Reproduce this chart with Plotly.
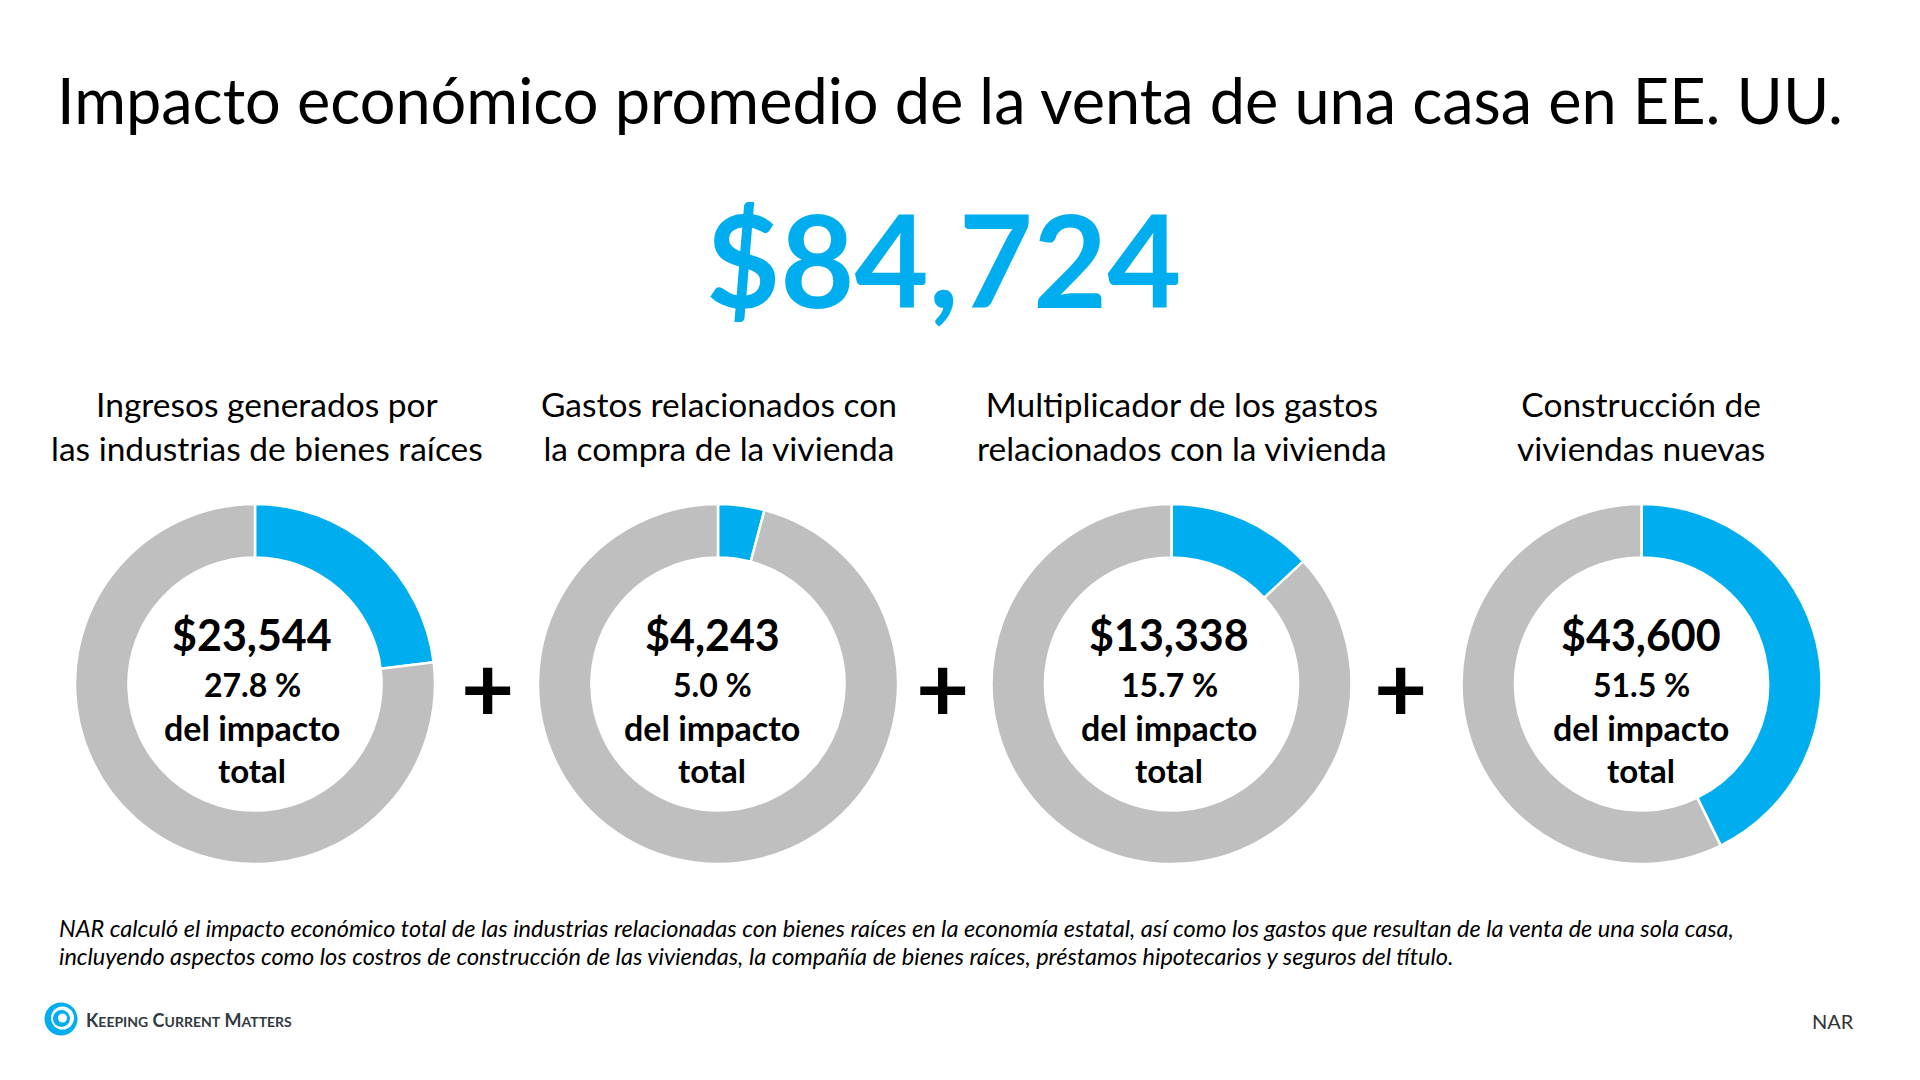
import plotly.graph_objects as go

W, H = 1920, 1080
blue = "#00AEEF"
grey = "#BFBFBF"
font = "Lato"

title = "Impacto económico promedio de la venta de una casa en EE. UU."
total_label = "$84,724"
headers = [
    "Ingresos generados por<br>las industrias de bienes raíces",
    "Gastos relacionados con<br>la compra de la vivienda",
    "Multiplicador de los gastos<br>relacionados con la vivienda",
    "Construcción de<br>viviendas nuevas",
]
amounts = [23544, 4243, 13338, 43600]
rest = [78456, 97757, 88662, 58400]  # grey part of each ring
amount_labels = ["$23,544", "$4,243", "$13,338", "$43,600"]
shares = ["27.8 %", "5.0 %", "15.7 %", "51.5 %"]
slices = ["Impacto", "Resto"]
note_lines = [
    "NAR calculó el impacto económico total de las industrias relacionadas con bienes raíces en la economía estatal, así como los gastos que resultan de la venta de una sola casa,",
    "incluyendo aspectos como los costros de construcción de las viviendas, la compañía de bienes raíces, préstamos hipotecarios y seguros del título.",
]

donut_x = [255, 718, 1171.5, 1641.5]
donut_y = 684
radius = 180
header_x = [267, 719, 1182, 1641]
center_x = [252.5, 712, 1169, 1641]
plus_x = [487.5, 942, 1400.5]


def px(x):
    return x / W


def py(y):
    return 1 - y / H


def text(x, y, s, size, color="#000000", bold=False, italic=False, anchor="center"):
    fig.add_annotation(x=px(x), y=py(y), xref="paper", yref="paper", text=s, showarrow=False,
                       xanchor=anchor, yanchor="middle", align=anchor,
                       font=dict(family=font, size=size, color=color,
                                 weight="bold" if bold else "normal",
                                 style="italic" if italic else "normal"))


def disc(x, y, r, color):
    fig.add_shape(type="circle", xref="paper", yref="paper", x0=px(x - r), x1=px(x + r),
                  y0=py(y + r), y1=py(y - r), fillcolor=color, line_width=0)


fig = go.Figure()
for i in range(4):
    fig.add_trace(go.Pie(labels=slices, values=[amounts[i], rest[i]], hole=0.703, sort=False,
                         direction="clockwise", rotation=0, textinfo="none", hoverinfo="skip",
                         marker=dict(colors=[blue, grey], line=dict(color="white", width=2.5)),
                         domain=dict(x=[px(donut_x[i] - radius), px(donut_x[i] + radius)],
                                     y=[py(donut_y + radius), py(donut_y - radius)])))

text(950, 99.5, title, 63)
text(943, 258, total_label, 128, blue, bold=True)
for i in range(4):
    text(header_x[i], 425.5, headers[i], 33.5)
    text(center_x[i], 634, amount_labels[i], 43, bold=True)
    text(center_x[i], 684.5, shares[i], 32, bold=True)
    text(center_x[i], 727, "del impacto", 34, bold=True)
    text(center_x[i], 770, "total", 33, bold=True)
for x in plus_x:
    text(x, 686, "+", 92, bold=True)
text(57, 928, note_lines[0], 23.5, italic=True, anchor="left")
text(57, 956, note_lines[1], 23.5, italic=True, anchor="left")
text(1856, 1020.5, "NAR", 20, "#333333", anchor="right")

# logo
disc(61, 1019, 16.5, blue)
disc(62.5, 1018, 11.5, "white")
disc(61.5, 1018.5, 8.5, blue)
disc(62.5, 1018, 4.5, "white")
big = '<span style="font-weight:bold">'
small = '<span style="font-size:14px;font-weight:bold">'
text(84, 1020, f'{big}K</span>{small}EEPING</span>{big} C</span>{small}URRENT</span>{big} M</span>{small}ATTERS</span>',
     18, "#333A40", bold=True, anchor="left")

fig.update_layout(width=W, height=H, margin=dict(l=0, r=0, t=0, b=0), showlegend=False,
                  paper_bgcolor="white", plot_bgcolor="white")
fig.write_html("out.html", config=dict(displayModeBar=False), post_script="document.body.style.margin='0';")
